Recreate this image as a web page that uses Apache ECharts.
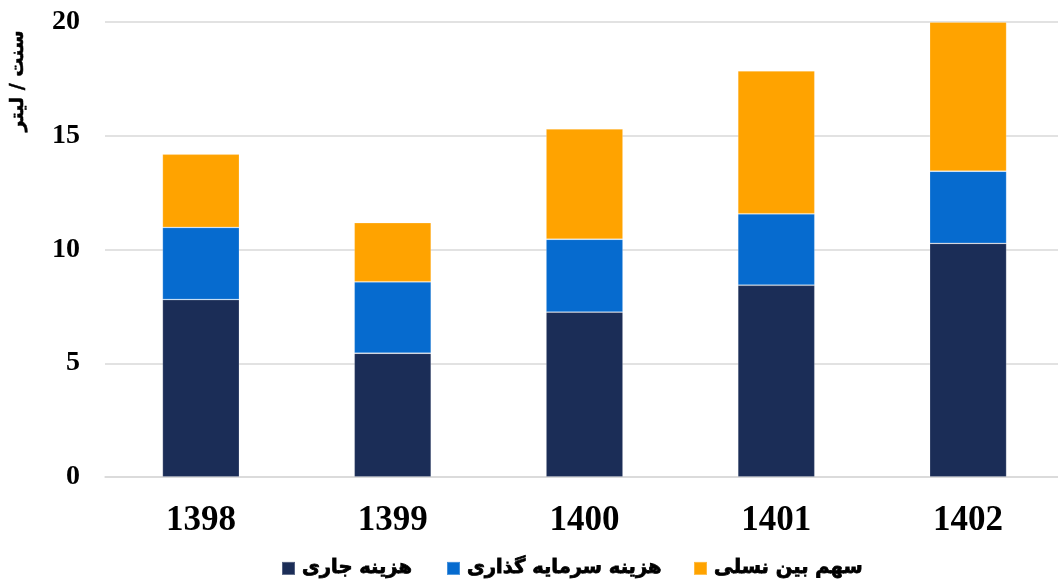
<!DOCTYPE html>
<html><head><meta charset="utf-8">
<script src="https://cdn.jsdelivr.net/npm/echarts@6/dist/echarts.min.js"></script>
<style>html,body{margin:0;padding:0;background:#fff;overflow:hidden}#c{width:1080px;height:583px}</style>
</head><body><div id="c"></div>
<script>
const categories = ['1398', '1399', '1400', '1401', '1402'];
const currentCost = [7.8, 5.44, 7.25, 8.43, 10.27];
const capitalCost = [3.17, 3.14, 3.2, 3.14, 3.17];
const interGenShare = [3.22, 2.6, 4.85, 6.28, 6.56];
const seriesNames = ['هزینه جاری', 'هزینه سرمایه گذاری', 'سهم بین نسلی'];
const yTicks = [0, 5, 10, 15, 20];
const yAxisTitle = 'سنت / لیتر';

const colors = ['#1B2D57', '#066BCF', '#FFA300'];
const legendLefts = [281, 446, 693];
const chart = echarts.init(document.getElementById('c'));
const mk = (name, data, i) => ({
  name, type: 'bar', stack: 's', data, barWidth: 77,
  itemStyle: { color: colors[i], borderColor: 'rgba(255,255,255,0.25)', borderWidth: 0.8 }
});
const legendText = { fontFamily: 'DejaVu Sans', fontWeight: 'bold', fontSize: 19.5, color: '#000', textBorderColor: '#000', textBorderWidth: 0.8, padding: [0, 0, 0, 2] };
chart.setOption({
  animation: false,
  color: colors,
  grid: { left: 105, top: 22, width: 959, height: 455, containLabel: false },
  legend: seriesNames.map((n, i) => ({
    left: legendLefts[i], top: 558, padding: 0, itemWidth: 13, itemHeight: 13, icon: 'rect', itemGap: 0,
    textStyle: legendText, data: [n]
  })),
  xAxis: {
    type: 'category', data: categories,
    axisLine: { lineStyle: { color: '#d9d9d9', width: 1.5 } },
    axisTick: { show: false },
    axisLabel: { margin: 26, fontFamily: 'Liberation Serif', fontWeight: 'bold', fontSize: 35, color: '#000' }
  },
  yAxis: {
    type: 'value', min: yTicks[0], max: yTicks[yTicks.length - 1], interval: 5,
    axisLine: { show: false }, axisTick: { show: false },
    splitLine: { lineStyle: { color: '#d9d9d9', width: 1.5 } },
    axisLabel: { margin: 25, fontFamily: 'Liberation Serif', fontWeight: 'bold', fontSize: 28, color: '#000' }
  },
  graphic: [{
    type: 'text', left: 8, top: 30, rotation: Math.PI / 2,
    style: { text: yAxisTitle, fontFamily: 'DejaVu Sans', fontWeight: 'bold', fontSize: 19, fill: '#000', stroke: '#000', lineWidth: 0.5 }
  }],
  series: [mk(seriesNames[0], currentCost, 0), mk(seriesNames[1], capitalCost, 1), mk(seriesNames[2], interGenShare, 2)]
});
</script></body></html>
